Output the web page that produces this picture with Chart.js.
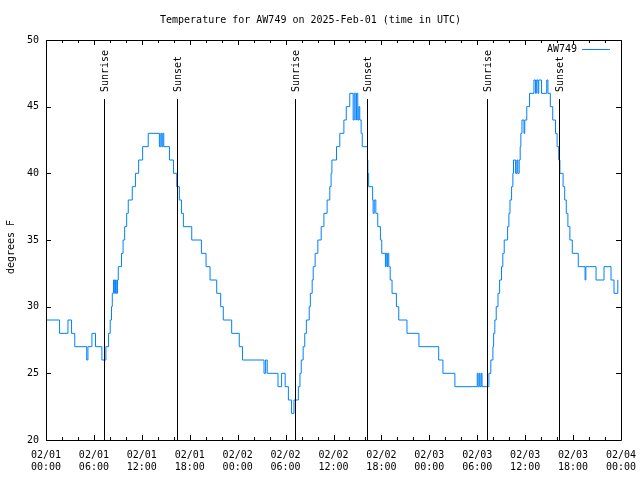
<!DOCTYPE html>
<html>
<head>
<meta charset="utf-8">
<script src="https://cdn.jsdelivr.net/npm/chart.js@4.4.1/dist/chart.umd.min.js"></script>
<style>
  html, body { margin: 0; padding: 0; background: #fff; }
  canvas { display: block; }
</style>
</head>
<body>
<canvas id="tempChart" width="640" height="480"></canvas>
<script>
// hours since 02/01 00:00 UTC, value holds from that hour on
const hours = [
  0, 1.7, 2.75, 3.2, 3.6, 5.1, 5.25, 5.75, 6.2, 7.0,
  7.5, 7.83, 8.04, 8.2, 8.3, 8.45, 8.6, 8.7, 8.8, 8.95,
  9.05, 9.45, 9.65, 9.85, 10.1, 10.3, 10.8, 11.2, 11.6, 12.1,
  12.8, 14.2, 14.375, 14.5, 14.625, 14.75, 15.46, 15.96, 16.375, 16.7,
  16.96, 17.2, 18.25, 19.46, 20.04, 20.54, 21.375, 21.875, 22.2, 23.25,
  24.2, 24.6, 27.3, 27.5, 27.7, 29.05, 29.5, 29.95, 30.35, 30.75,
  31.05, 31.6, 31.8, 31.96, 32.2, 32.4, 32.6, 32.96, 33.1, 33.33,
  33.46, 33.7, 34.04, 34.46, 34.8, 35.2, 35.54, 35.7, 35.8, 36.375,
  36.79, 37.3, 37.6, 38.04, 38.46, 38.6, 38.8, 38.875, 39.04, 39.17,
  39.29, 39.46, 39.6, 40.25, 40.3, 40.4, 40.9, 40.96, 41.1, 41.3,
  41.54, 41.875, 42.04, 42.5, 42.58, 42.71, 42.79, 42.92, 43.1, 43.33,
  43.875, 44.17, 45.2, 46.7, 49.17, 49.7, 51.2, 54.0, 54.1, 54.25,
  54.35, 54.5, 54.6, 55.46, 55.7, 55.96, 56.05, 56.2, 56.375, 56.6,
  56.8, 57.04, 57.2, 57.375, 57.8, 57.96, 58.1, 58.3, 58.46, 58.54,
  58.8, 58.96, 59.08, 59.25, 59.375, 59.46, 59.6, 59.85, 59.95, 60.2,
  60.55, 61.1, 61.3, 61.4, 61.6, 61.7, 62.05, 62.7, 62.85, 63.15,
  63.45, 63.8, 64.0, 64.2, 64.35, 64.75, 64.95, 65.15, 65.35, 65.6,
  65.9, 66.65, 67.5, 67.6, 68.875, 69.875, 70.75, 71.125, 71.6, 71.65
];
const tempF = [
  29, 28, 29, 28, 27, 26, 27, 28, 27, 26,
  27, 28, 29, 30, 31, 32, 31, 32, 31, 32,
  33, 34, 35, 36, 37, 38, 39, 40, 41, 42,
  43, 42, 43, 42, 43, 42, 41, 40, 39, 38,
  37, 36, 35, 34, 33, 32, 31, 30, 29, 28,
  27, 26, 25, 26, 25, 24, 25, 24, 23, 22,
  23, 24, 25, 26, 27, 28, 29, 30, 31, 32,
  33, 34, 35, 36, 37, 38, 39, 40, 41, 42,
  43, 44, 45, 46, 44, 46, 44, 46, 44, 45,
  44, 43, 42, 41, 40, 39, 38, 37, 38, 37,
  36, 35, 34, 33, 34, 33, 34, 33, 32, 31,
  30, 29, 28, 27, 26, 25, 24, 25, 24, 25,
  24, 25, 24, 25, 26, 27, 28, 29, 30, 31,
  32, 33, 34, 35, 36, 37, 38, 39, 40, 41,
  40, 41, 40, 41, 42, 43, 44, 43, 44, 45,
  46, 47, 46, 47, 46, 47, 46, 47, 46, 45,
  44, 43, 42, 41, 40, 39, 38, 37, 36, 35,
  34, 33, 32, 33, 32, 33, 32, 31, 32, 32
];

// sunrise / sunset markers (hours)
const sunTimes = [7.3, 16.36, 31.2, 40.2, 55.2, 64.22];
const sunLabels = ["Sunrise", "Sunset", "Sunrise", "Sunset", "Sunrise", "Sunset"];

// x tick labels every 6 hours
const tickDates = ["02/01", "02/01", "02/01", "02/01", "02/02", "02/02", "02/02", "02/02", "02/03", "02/03", "02/03", "02/03", "02/04"];
const tickTimes = ["00:00", "06:00", "12:00", "18:00", "00:00", "06:00", "12:00", "18:00", "00:00", "06:00", "12:00", "18:00", "00:00"];

const FONT = "'DejaVu Sans Mono', 'Liberation Mono', monospace";
const LINE_COLOR = "#0080ff";

Chart.defaults.color = "#000";

// gnuplot-ish frame: box, inward ticks, sun lines, legend, y title
const framePlugin = {
  id: "frame",
  afterDraw(chart) {
    const { ctx, chartArea: a, scales: { x, y } } = chart;
    ctx.save();
    ctx.strokeStyle = "#000";
    ctx.lineWidth = 1;

    // sunrise / sunset lines
    ctx.beginPath();
    for (const t of sunTimes) {
      const px = Math.round(x.getPixelForValue(t)) + 0.5;
      ctx.moveTo(px, a.top + 59);
      ctx.lineTo(px, a.bottom);
    }
    ctx.stroke();

    ctx.fillStyle = "#000";
    ctx.font = "10px " + FONT;
    ctx.textAlign = "left";
    ctx.textBaseline = "middle";
    sunTimes.forEach((t, i) => {
      const px = Math.round(x.getPixelForValue(t)) + 1;
      ctx.save();
      ctx.translate(px, a.top + 52);
      ctx.rotate(-Math.PI / 2);
      ctx.fillText(sunLabels[i], 0, 0);
      ctx.restore();
    });

    // box
    ctx.beginPath();
    ctx.rect(Math.round(a.left) + 0.5, Math.round(a.top) + 0.5,
             Math.round(a.right) - Math.round(a.left), Math.round(a.bottom) - Math.round(a.top));
    ctx.stroke();

    // ticks
    ctx.beginPath();
    for (const tk of x.ticks) {
      const px = Math.round(x.getPixelForValue(tk.value)) + 0.5;
      const len = tk.value % 6 === 0 ? 5 : 3;
      ctx.moveTo(px, a.bottom);
      ctx.lineTo(px, a.bottom - len);
      ctx.moveTo(px, a.top);
      ctx.lineTo(px, a.top + len);
    }
    for (const tk of y.ticks) {
      const py = Math.round(y.getPixelForValue(tk.value)) + 0.5;
      ctx.moveTo(a.left, py);
      ctx.lineTo(a.left + 5, py);
      ctx.moveTo(a.right, py);
      ctx.lineTo(a.right - 5, py);
    }
    ctx.stroke();

    // legend
    const ds = chart.data.datasets[0];
    ctx.textAlign = "right";
    ctx.fillText(ds.label, a.right - 44, a.top + 9);
    ctx.strokeStyle = ds.borderColor;
    ctx.beginPath();
    ctx.moveTo(a.right - 39, a.top + 9.5);
    ctx.lineTo(a.right - 11, a.top + 9.5);
    ctx.stroke();

    // y axis title
    ctx.save();
    ctx.translate(11, (a.top + a.bottom) / 2 + 7);
    ctx.rotate(-Math.PI / 2);
    ctx.textAlign = "center";
    ctx.fillText("degrees F", 0, 0);
    ctx.restore();

    ctx.restore();
  }
};

new Chart(document.getElementById("tempChart"), {
  type: "line",
  data: {
    datasets: [{
      label: "AW749",
      data: hours.map((h, i) => ({ x: h, y: tempF[i] })),
      borderColor: LINE_COLOR,
      borderWidth: 1,
      pointRadius: 0,
      stepped: true,
      fill: false
    }]
  },
  options: {
    responsive: false,
    animation: false,
    devicePixelRatio: 1,
    layout: { padding: { left: 0, right: 19, top: 0, bottom: 0 } },
    plugins: {
      legend: { display: false },
      tooltip: { enabled: false },
      title: {
        display: true,
        text: "Temperature for AW749 on 2025-Feb-01 (time in UTC)",
        color: "#000",
        font: { family: FONT, size: 10, weight: "normal", lineHeight: 1.2 },
        padding: { top: 14, bottom: 14 }
      }
    },
    scales: {
      x: {
        type: "linear",
        min: 0,
        max: 72,
        afterFit(s) {
          s.height = 40;
          s.paddingLeft = 0;
          s.paddingRight = 0;
        },
        grid: { display: false, drawTicks: false },
        border: { display: false },
        ticks: {
          stepSize: 2,
          maxTicksLimit: 40,
          autoSkip: false,
          maxRotation: 0,
          minRotation: 0,
          padding: 9,
          color: "#000",
          font: { family: FONT, size: 10, lineHeight: 1.2 },
          callback: (v) => v % 6 === 0 ? [tickDates[v / 6], tickTimes[v / 6]] : ""
        }
      },
      y: {
        min: 20,
        max: 50,
        afterFit(s) { s.width = 46; },
        grid: { display: false, drawTicks: false },
        border: { display: false },
        ticks: {
          stepSize: 5,
          padding: 7,
          color: "#000",
          font: { family: FONT, size: 10 }
        }
      }
    }
  },
  plugins: [framePlugin]
});
</script>
</body>
</html>
